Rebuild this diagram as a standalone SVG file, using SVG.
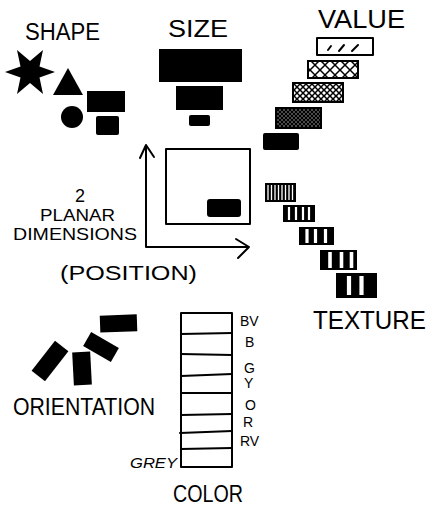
<svg xmlns="http://www.w3.org/2000/svg" width="434" height="508" viewBox="0 0 434 508">
<style>
text{font-family:"Liberation Sans","DejaVu Sans",sans-serif;fill:#000}
.ln{fill:none;stroke:#000;stroke-width:2;stroke-linecap:round;stroke-linejoin:round}
.box{fill:#fff;stroke:#000;stroke-width:2;stroke-linejoin:round}
.blk{fill:#000}
.lbl{font-size:14px}
</style>
<defs>
<pattern id="xh1" patternUnits="userSpaceOnUse" width="10" height="10">
<path d="M0,0L10,10M10,0L0,10" stroke="#000" stroke-width="1.5"/>
</pattern>
<pattern id="xh2" patternUnits="userSpaceOnUse" width="6" height="6">
<path d="M0,0L6,6M6,0L0,6" stroke="#000" stroke-width="1.5"/>
</pattern>
<pattern id="xh3" patternUnits="userSpaceOnUse" width="4" height="4">
<path d="M0,0L4,4M4,0L0,4" stroke="#000" stroke-width="1.7"/>
</pattern>
</defs>

<g id="shape">
<text x="25" y="40" font-size="23" textLength="75" lengthAdjust="spacingAndGlyphs">SHAPE</text>
<polygon class="blk" points="55,72 39.5,77.5 43,94 30,83 17,94 20.5,77.5 5,72 20.5,66.5 17,50 30,61 43,50 39.5,66.5"/>
<polygon class="blk" points="68,68 83,95 53,95"/>
<rect class="blk" x="87" y="91" width="38" height="21"/>
<circle class="blk" cx="72" cy="117" r="11"/>
<rect class="blk" x="96" y="116" width="23" height="19" rx="2"/>
</g>

<g id="size">
<text x="168" y="37" font-size="23" textLength="60" lengthAdjust="spacingAndGlyphs">SIZE</text>
<rect class="blk" x="159" y="49" width="83" height="33"/>
<rect class="blk" x="176" y="86" width="47" height="24"/>
<rect class="blk" x="189" y="115" width="21" height="11" rx="2"/>
</g>

<g id="value">
<text x="318" y="28" font-size="25" textLength="87" lengthAdjust="spacingAndGlyphs">VALUE</text>
<rect class="box" x="317" y="38" width="56" height="17"/>
<path class="ln" d="M328,50L331,46M339,51L344,45M352,51L358,45" stroke-width="1.6"/>
<rect x="308" y="61" width="50" height="17" fill="url(#xh1)" stroke="#000" stroke-width="2"/>
<rect x="293" y="83" width="50" height="19" fill="url(#xh2)" stroke="#000" stroke-width="2"/>
<rect x="276" y="108" width="45" height="20" fill="url(#xh3)" stroke="#000" stroke-width="2"/>
<rect class="blk" x="263" y="133" width="36" height="17" rx="2"/>
</g>

<g id="position">
<rect class="box" x="166" y="149" width="84" height="75"/>
<rect class="blk" x="207" y="199" width="34" height="18" rx="3"/>
<path class="ln" d="M146,145L146,247L249,247M140,158L146,145L154,157M236,239L249,247L238,258"/>
<text x="80" y="202" font-size="18" text-anchor="middle">2</text>
<text x="40" y="221" font-size="17" textLength="75" lengthAdjust="spacingAndGlyphs">PLANAR</text>
<text x="13" y="240" font-size="17" textLength="124" lengthAdjust="spacingAndGlyphs">DIMENSIONS</text>
<text x="60" y="280" font-size="20" textLength="137" lengthAdjust="spacingAndGlyphs">(POSITION)</text>
</g>

<g id="texture">
<rect class="blk" x="265" y="183" width="31" height="19"/>
<path d="M268,185V200M271.5,185V200M275,185V200M278.5,185V200M282,185V200M285.5,185V200M289,185V200M292.5,185V200" stroke="#fff" stroke-width="1.3"/>
<rect class="blk" x="283" y="205" width="32" height="17"/>
<path d="M289,207V220M296,207V220M303,207V220M309,207V220" stroke="#fff" stroke-width="2.2"/>
<rect class="blk" x="299" y="227" width="35" height="18"/>
<path d="M307,229V243M315.5,229V243M325.5,229V243" stroke="#fff" stroke-width="3.2"/>
<rect class="blk" x="320" y="250" width="37" height="20"/>
<path d="M330,252V268M341.5,252V268M351.5,252V268" stroke="#fff" stroke-width="3.6"/>
<rect class="blk" x="336" y="273" width="41" height="25"/>
<path d="M349,276V295M361.5,276V295" stroke="#fff" stroke-width="4.2"/>
<text x="313" y="329" font-size="25" textLength="113" lengthAdjust="spacingAndGlyphs">TEXTURE</text>
</g>

<g id="orientation">
<rect class="blk" x="100" y="315" width="37" height="17" transform="rotate(-2 118 323)"/>
<rect class="blk" x="85" y="339" width="32" height="16" transform="rotate(30 101 347)"/>
<rect class="blk" x="73" y="352" width="18" height="33" transform="rotate(-3 82 368)"/>
<rect class="blk" x="31" y="352.5" width="38" height="17" transform="rotate(-52 50 361)"/>
<text x="13" y="415" font-size="23" textLength="142" lengthAdjust="spacingAndGlyphs">ORIENTATION</text>
</g>

<g id="color">
<rect class="box" x="181" y="313" width="51" height="154"/>
<path class="ln" d="M181,334L232,333M181,354L232,355M181,376L232,374M181,393L232,393M181,415L232,414M180,433L232,431M181,449L232,448"/>
<text class="lbl" x="240" y="326">BV</text>
<text class="lbl" x="245" y="347">B</text>
<text class="lbl" x="244" y="373">G</text>
<text class="lbl" x="244" y="388">Y</text>
<text class="lbl" x="245" y="410">O</text>
<text class="lbl" x="243" y="427">R</text>
<text class="lbl" x="240" y="446">RV</text>
<text x="130" y="468" font-size="14" font-style="italic" textLength="47" lengthAdjust="spacingAndGlyphs">GREY</text>
<text x="173" y="502" font-size="24" textLength="70" lengthAdjust="spacingAndGlyphs">COLOR</text>
</g>
</svg>
